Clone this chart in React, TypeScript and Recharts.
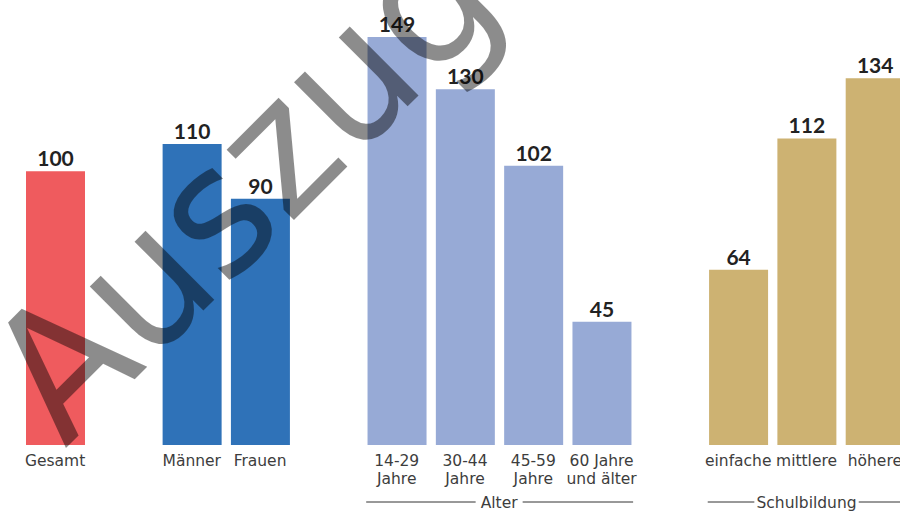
import React from 'react';
import { Bar, BarChart, Cell, LabelList, XAxis, YAxis } from 'recharts';

// slots, empty ones keep the gaps between groups
const categories = ['Gesamt', 'gap1', 'Männer', 'Frauen', 'gap2', '14-29', '30-44', '45-59', '60+', 'gap3', 'einfache', 'mittlere', 'höhere'];
const tickLabels = [['Gesamt'], [], ['Männer'], ['Frauen'], [], ['14-29', 'Jahre'], ['30-44', 'Jahre'], ['45-59', 'Jahre'], ['60 Jahre', 'und älter'], [], ['einfache'], ['mittlere'], ['höhere']];
const values = [100, null, 110, 90, null, 149, 130, 102, 45, null, 64, 112, 134];
const groupOf = ['gesamt', '', 'geschlecht', 'geschlecht', '', 'alter', 'alter', 'alter', 'alter', '', 'bildung', 'bildung', 'bildung'];
const groupLabels = [
    { label: 'Alter', first: 5, last: 8 },
    { label: 'Schulbildung', first: 10, last: 12 },
];

const colors: Record<string, string> = {
    gesamt: '#EF5B5E',
    geschlecht: '#2F72B8',
    alter: '#97AAD6',
    bildung: '#CDB272',
};

const CHART_W = 910;
const CHART_H = 512;
const MARGIN = { top: 7, right: 1, left: 21, bottom: 7 };
const STEP = (CHART_W - MARGIN.left - MARGIN.right) / categories.length;
const BAR = 59;
const FONT = '"DejaVu Sans", sans-serif';

const data = categories.map((c, i) => ({ key: c, value: values[i], group: groupOf[i] }));

function CategoryTick(props: any) {
    const { x, y, payload } = props;
    const idx = categories.indexOf(payload.value);
    const lines = tickLabels[idx] || [];
    const grp = groupLabels.find((g) => g.first === idx);
    let bracket = null;
    if (grp) {
        const left = x - BAR / 2 - 1;
        const right = x + (grp.last - grp.first) * STEP + BAR / 2 + 2;
        const mid = x + ((grp.last - grp.first) * STEP) / 2;
        const half = grp.label.length * 4.1 + 3;
        bracket = (
            <g>
                <line x1={left} x2={mid - half} y1={y + 57} y2={y + 57} stroke="#333" strokeWidth={1} />
                <line x1={mid + half} x2={right} y1={y + 57} y2={y + 57} stroke="#333" strokeWidth={1} />
                <text x={mid} y={y + 63} textAnchor="middle" fontFamily={FONT} fontSize={15.5} fill="#3d3d3d">
                    {grp.label}
                </text>
            </g>
        );
    }
    return (
        <g>
            {lines.map((l, i) => (
                <text key={i} x={x} y={y + 21 + i * 18} textAnchor="middle" fontFamily={FONT} fontSize={15.5} fill="#3d3d3d">
                    {l}
                </text>
            ))}
            {bracket}
        </g>
    );
}

function ValueLabel(props: any) {
    const { x, y, width, value } = props;
    if (value === null || value === undefined) return null;
    return (
        <text x={x + width / 2} y={y - 5} textAnchor="middle" fontFamily="Lato, sans-serif" fontWeight={700} fontSize={21} fill="#222">
            {value}
        </text>
    );
}

export default function App() {
    return (
        <div style={{ position: 'relative', width: 900, height: 512, overflow: 'hidden', background: '#fff' }}>
            <style>{'html, body { margin: 0; padding: 0; overflow: hidden; }'}</style>
            <BarChart width={CHART_W} height={CHART_H} data={data} margin={MARGIN} style={{ overflow: 'visible' }}>
                <XAxis
                    dataKey="key"
                    axisLine={false}
                    tickLine={false}
                    tickSize={0}
                    tickMargin={0}
                    height={60}
                    interval={0}
                    tick={<CategoryTick />}
                />
                <YAxis hide domain={[0, 160]} />
                <Bar dataKey="value" barSize={BAR} isAnimationActive={false}>
                    {data.map((d, i) => (
                        <Cell key={i} fill={colors[d.group] || 'transparent'} />
                    ))}
                    <LabelList dataKey="value" content={<ValueLabel />} />
                </Bar>
            </BarChart>
            {/* watermark */}
            <svg width={900} height={512} style={{ position: 'absolute', left: 0, top: 0, pointerEvents: 'none' }}>
                <text
                    x={0}
                    y={0}
                    transform="translate(65 449) rotate(-45)"
                    fontFamily={FONT}
                    fontSize={178}
                    textLength={625}
                    lengthAdjust="spacingAndGlyphs"
                    fill="#000"
                    fillOpacity={0.45}
                >
                    Auszug
                </text>
            </svg>
        </div>
    );
}
